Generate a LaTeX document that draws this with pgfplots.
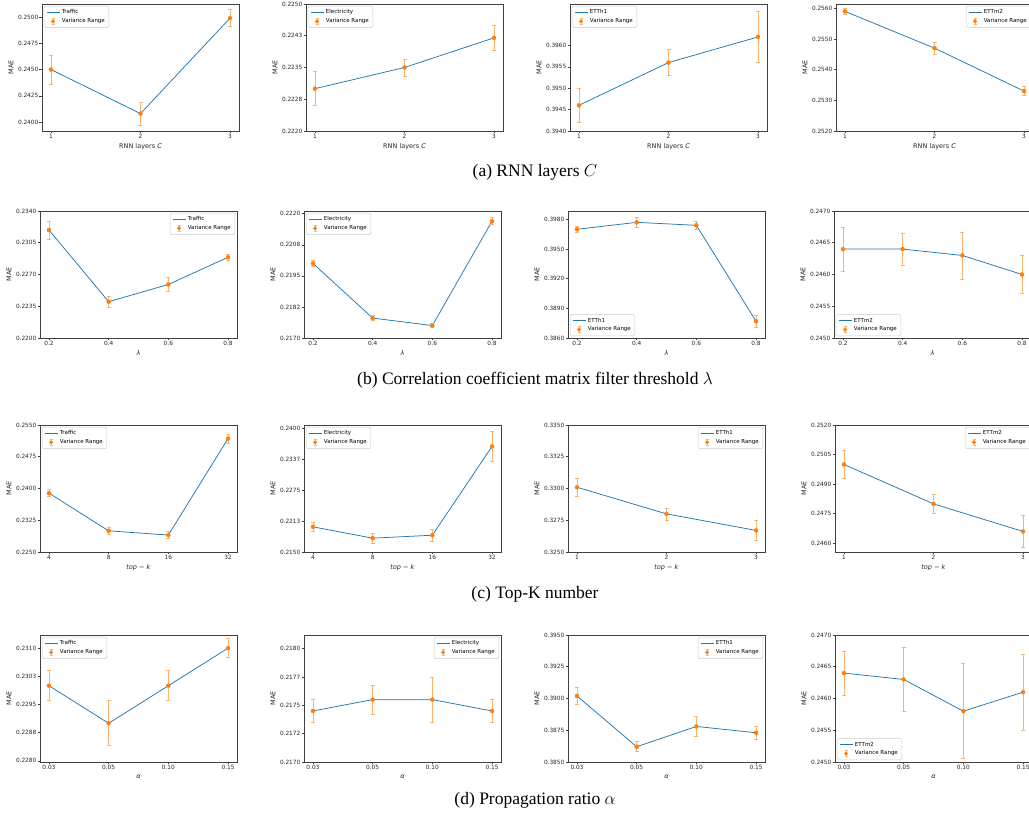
\documentclass[border=0pt]{standalone}
\usepackage{fontspec}
\setmainfont{Liberation Serif}
\newfontfamily\dejavu{DejaVu Sans}
\usepackage{pgfplots}
\pgfplotsset{compat=1.18}

\definecolor{mplblue}{HTML}{1F77B4}
\definecolor{mplorange}{HTML}{FF7F0E}
\colorlet{errorange}{mplorange!60}

\pgfplotsset{
  panel/.style={
    scale only axis, width=197pt, height=127pt, anchor=south west,
    tick pos=left, tick align=outside, major tick length=2.5pt,
    axis line style={black!75, line width=0.5pt},
    tick style={black!75, line width=0.5pt},
    ticklabel style={font=\dejavu\fontsize{5.8}{6}\selectfont, inner sep=1pt, text=black!85},
    label style={font=\dejavu\fontsize{6.5}{7}\selectfont, text=black!85},
    ylabel={MAE},
    legend cell align=left,
    legend style={font=\dejavu\fontsize{5.5}{6}\selectfont, draw=black!20,
      rounded corners=1.5pt, inner xsep=2pt, inner ysep=1.5pt, row sep=-0.8pt, fill=white},
  },
  nw/.style={legend style={at={(0.01,0.985)}, anchor=north west}},
  ne/.style={legend style={at={(0.99,0.985)}, anchor=north east}},
  sw/.style={legend style={at={(0.01,0.015)}, anchor=south west}},
  rowa/.style={xmin=0.9, xmax=3.1, xtick={1,2,3}, xticklabels={1,2,3}, xlabel={RNN layers \textit{C}}},
  rowb/.style={xmin=0.17, xmax=0.83, xtick={0.2,0.4,0.6,0.8}, xticklabels={0.2,0.4,0.6,0.8}, xlabel={\textit{λ}}},
  rowck/.style={xmin=-0.15, xmax=3.15, xtick={0,1,2,3}, xticklabels={4,8,16,32}, xlabel={\textit{top} − \textit{k}}},
  rowc/.style={xmin=0.9, xmax=3.1, xtick={1,2,3}, xticklabels={1,2,3}, xlabel={\textit{top} − \textit{k}}},
  rowd/.style={xmin=-0.15, xmax=3.15, xtick={0,1,2,3}, xticklabels={0.03,0.05,0.10,0.15}, xlabel={\textit{α}}},
  ln/.style={mplblue, line width=0.75pt, mark=none,
    legend image code/.code={\draw[mplblue,line width=0.75pt] (0pt,0pt) -- (13pt,0pt);}},
  eb/.style={only marks, mark=*, mark size=2pt, color=mplorange,
    mark options={fill=mplorange, draw=mplorange},
    error bars/y dir=both, error bars/y explicit,
    error bars/error bar style={errorange, line width=0.9pt},
    error bars/error mark options={rotate=90, errorange, mark size=2pt, line width=0.7pt},
    legend image code/.code={\draw[errorange,line width=0.8pt] (6.5pt,-2.8pt) -- (6.5pt,2.8pt) (5pt,-2.8pt) -- (8pt,-2.8pt) (5pt,2.8pt) -- (8pt,2.8pt); \fill[mplorange] (6.5pt,0pt) circle (1.8pt);}},
}

\begin{document}
\begin{tikzpicture}
% ---------- row (a) ----------
\begin{axis}[panel, rowa, nw, at={(42pt,682pt)}, ymin=0.23914, ymax=0.25125,
  ytick={0.2400,0.2425,0.2450,0.2475,0.2500}, yticklabels={0.2400,0.2425,0.2450,0.2475,0.2500}]
\addplot[ln] coordinates {(1,0.2450) (2,0.2408) (3,0.2499)}; \addlegendentry{Traffic}
\addplot[eb] coordinates {(1,0.2450) +- (0,0.0014) (2,0.2408) +- (0,0.0011) (3,0.2499) +- (0,0.0008)}; \addlegendentry{Variance Range}
\end{axis}
\begin{axis}[panel, rowa, nw, at={(306pt,682pt)}, ymin=0.2220, ymax=0.2250,
  ytick={0.2220,0.22275,0.2235,0.22425,0.2250}, yticklabels={0.2220,0.2228,0.2235,0.2243,0.2250}]
\addplot[ln] coordinates {(1,0.2230) (2,0.2235) (3,0.2242)}; \addlegendentry{Electricity}
\addplot[eb] coordinates {(1,0.2230) +- (0,0.0004) (2,0.2235) +- (0,0.0002) (3,0.2242) +- (0,0.0003)}; \addlegendentry{Variance Range}
\end{axis}
\begin{axis}[panel, rowa, nw, at={(570pt,682pt)}, ymin=0.3940, ymax=0.39697,
  ytick={0.3940,0.3945,0.3950,0.3955,0.3960}, yticklabels={0.3940,0.3945,0.3950,0.3955,0.3960}]
\addplot[ln] coordinates {(1,0.3946) (2,0.3956) (3,0.3962)}; \addlegendentry{ETTh1}
\addplot[eb] coordinates {(1,0.3946) +- (0,0.0004) (2,0.3956) +- (0,0.0003) (3,0.3962) +- (0,0.0006)}; \addlegendentry{Variance Range}
\end{axis}
\begin{axis}[panel, rowa, ne, at={(836pt,682pt)}, ymin=0.2520, ymax=0.25614,
  ytick={0.2520,0.2530,0.2540,0.2550,0.2560}, yticklabels={0.2520,0.2530,0.2540,0.2550,0.2560}]
\addplot[ln] coordinates {(1,0.2559) (2,0.2547) (3,0.2533)}; \addlegendentry{ETTm2}
\addplot[eb] coordinates {(1,0.2559) +- (0,0.0001) (2,0.2547) +- (0,0.0002) (3,0.2533) +- (0,0.00015)}; \addlegendentry{Variance Range}
\end{axis}
% ---------- row (b) ----------
\begin{axis}[panel, rowb, ne, at={(40pt,475pt)}, ymin=0.2200, ymax=0.2340,
  ytick={0.2200,0.2235,0.2270,0.2305,0.2340}, yticklabels={0.2200,0.2235,0.2270,0.2305,0.2340}]
\addplot[ln] coordinates {(0.2,0.2319) (0.4,0.2240) (0.6,0.2259) (0.8,0.2289)}; \addlegendentry{Traffic}
\addplot[eb] coordinates {(0.2,0.2319) +- (0,0.0010) (0.4,0.2240) +- (0,0.0006) (0.6,0.2259) +- (0,0.0008) (0.8,0.2289) +- (0,0.00037)}; \addlegendentry{Variance Range}
\end{axis}
\begin{axis}[panel, rowb, nw, at={(304pt,475pt)}, ymin=0.2170, ymax=0.22211,
  ytick={0.2170,0.21825,0.2195,0.22075,0.2220}, yticklabels={0.2170,0.2182,0.2195,0.2208,0.2220}]
\addplot[ln] coordinates {(0.2,0.2200) (0.4,0.2178) (0.6,0.2175) (0.8,0.2217)}; \addlegendentry{Electricity}
\addplot[eb] coordinates {(0.2,0.2200) +- (0,0.00011) (0.4,0.2178) +- (0,0.0001) (0.6,0.2175) +- (0,0.00009) (0.8,0.2217) +- (0,0.00014)}; \addlegendentry{Variance Range}
\end{axis}
\begin{axis}[panel, rowb, sw, at={(568pt,475pt)}, ymin=0.3860, ymax=0.39885,
  ytick={0.3860,0.3890,0.3920,0.3950,0.3980}, yticklabels={0.3860,0.3890,0.3920,0.3950,0.3980}]
\addplot[ln] coordinates {(0.2,0.3970) (0.4,0.3977) (0.6,0.3974) (0.8,0.3877)}; \addlegendentry{ETTh1}
\addplot[eb] coordinates {(0.2,0.3970) +- (0,0.0003) (0.4,0.3977) +- (0,0.0005) (0.6,0.3974) +- (0,0.0004) (0.8,0.3877) +- (0,0.0006)}; \addlegendentry{Variance Range}
\end{axis}
\begin{axis}[panel, rowb, sw, at={(834pt,475pt)}, ymin=0.2450, ymax=0.2470,
  ytick={0.2450,0.2455,0.2460,0.2465,0.2470}, yticklabels={0.2450,0.2455,0.2460,0.2465,0.2470}]
\addplot[ln] coordinates {(0.2,0.2464) (0.4,0.2464) (0.6,0.2463) (0.8,0.2460)}; \addlegendentry{ETTm2}
\addplot[eb] coordinates {(0.2,0.2464) +- (0,0.00035) (0.4,0.2464) +- (0,0.00025) (0.6,0.2463) +- (0,0.00037) (0.8,0.2460) +- (0,0.0003)}; \addlegendentry{Variance Range}
\end{axis}
% ---------- row (c) ----------
\begin{axis}[panel, rowck, nw, at={(40pt,261pt)}, ymin=0.2250, ymax=0.2550,
  ytick={0.2250,0.2325,0.2400,0.2475,0.2550}, yticklabels={0.2250,0.2325,0.2400,0.2475,0.2550}]
\addplot[ln] coordinates {(0,0.2389) (1,0.2300) (2,0.2290) (3,0.2518)}; \addlegendentry{Traffic}
\addplot[eb] coordinates {(0,0.2389) +- (0,0.0008) (1,0.2300) +- (0,0.0009) (2,0.2290) +- (0,0.0008) (3,0.2518) +- (0,0.0011)}; \addlegendentry{Variance Range}
\end{axis}
\begin{axis}[panel, rowck, nw, at={(304pt,261pt)}, ymin=0.2150, ymax=0.24074,
  ytick={0.2150,0.22125,0.2275,0.23375,0.2400}, yticklabels={0.2150,0.2213,0.2275,0.2337,0.2400}]
\addplot[ln] coordinates {(0,0.2201) (1,0.2178) (2,0.2184) (3,0.2364)}; \addlegendentry{Electricity}
\addplot[eb] coordinates {(0,0.2201) +- (0,0.0009) (1,0.2178) +- (0,0.0010) (2,0.2184) +- (0,0.0012) (3,0.2364) +- (0,0.0031)}; \addlegendentry{Variance Range}
\end{axis}
\begin{axis}[panel, rowc, ne, at={(568pt,261pt)}, ymin=0.3250, ymax=0.3350,
  ytick={0.3250,0.3275,0.3300,0.3325,0.3350}, yticklabels={0.3250,0.3275,0.3300,0.3325,0.3350}]
\addplot[ln] coordinates {(1,0.3301) (2,0.3280) (3,0.3267)}; \addlegendentry{ETTh1}
\addplot[eb] coordinates {(1,0.3301) +- (0,0.0007) (2,0.3280) +- (0,0.00047) (3,0.3267) +- (0,0.0008)}; \addlegendentry{Variance Range}
\end{axis}
\begin{axis}[panel, rowc, ne, at={(835pt,261pt)}, ymin=0.24556, ymax=0.2520,
  ytick={0.2460,0.2475,0.2490,0.2505,0.2520}, yticklabels={0.2460,0.2475,0.2490,0.2505,0.2520}]
\addplot[ln] coordinates {(1,0.2500) (2,0.2480) (3,0.2466)}; \addlegendentry{ETTm2}
\addplot[eb] coordinates {(1,0.2500) +- (0,0.0007) (2,0.2480) +- (0,0.0005) (3,0.2466) +- (0,0.0008)}; \addlegendentry{Variance Range}
\end{axis}
% ---------- row (d) ----------
\begin{axis}[panel, rowd, nw, at={(40pt,51pt)}, ymin=0.22797, ymax=0.23135,
  ytick={0.2280,0.22875,0.2295,0.23025,0.2310}, yticklabels={0.2280,0.2288,0.2295,0.2303,0.2310}]
\addplot[ln] coordinates {(0,0.2300) (1,0.2290) (2,0.2300) (3,0.2310)}; \addlegendentry{Traffic}
\addplot[eb] coordinates {(0,0.2300) +- (0,0.0004) (1,0.2290) +- (0,0.0006) (2,0.2300) +- (0,0.0004) (3,0.2310) +- (0,0.00025)}; \addlegendentry{Variance Range}
\end{axis}
\begin{axis}[panel, rowd, ne, at={(304pt,51pt)}, ymin=0.2170, ymax=0.21812,
  ytick={0.2170,0.21725,0.2175,0.21775,0.2180}, yticklabels={0.2170,0.2172,0.2175,0.2177,0.2180}]
\addplot[ln] coordinates {(0,0.21745) (1,0.21755) (2,0.21755) (3,0.21745)}; \addlegendentry{Electricity}
\addplot[eb] coordinates {(0,0.21745) +- (0,0.0001) (1,0.21755) +- (0,0.00013) (2,0.21755) +- (0,0.0002) (3,0.21745) +- (0,0.0001)}; \addlegendentry{Variance Range}
\end{axis}
\begin{axis}[panel, rowd, ne, at={(568pt,51pt)}, ymin=0.3850, ymax=0.3950,
  ytick={0.3850,0.3875,0.3900,0.3925,0.3950}, yticklabels={0.3850,0.3875,0.3900,0.3925,0.3950}]
\addplot[ln] coordinates {(0,0.3902) (1,0.3862) (2,0.3878) (3,0.3873)}; \addlegendentry{ETTh1}
\addplot[eb] coordinates {(0,0.3902) +- (0,0.0007) (1,0.3862) +- (0,0.0004) (2,0.3878) +- (0,0.0008) (3,0.3873) +- (0,0.0005)}; \addlegendentry{Variance Range}
\end{axis}
\begin{axis}[panel, rowd, sw, at={(835pt,51pt)}, ymin=0.2450, ymax=0.2470,
  ytick={0.2450,0.2455,0.2460,0.2465,0.2470}, yticklabels={0.2450,0.2455,0.2460,0.2465,0.2470}]
\addplot[ln] coordinates {(0,0.2464) (1,0.2463) (2,0.2458) (3,0.2461)}; \addlegendentry{ETTm2}
\addplot[eb] coordinates {(0,0.2464) +- (0,0.00035) (1,0.2463) +- (0,0.0005) (2,0.2458) +- (0,0.00075) (3,0.2461) +- (0,0.0006)}; \addlegendentry{Variance Range}
\end{axis}
% ---------- captions ----------
\begin{scope}[every node/.style={font=\fontsize{17.5}{20}\selectfont}]
\node at (535pt,641pt) {(a) RNN layers $C$};
\node at (535pt,433pt) {(b) Correlation coefficient matrix filter threshold $\lambda$};
\node at (535pt,219pt) {(c) Top-K number};
\node at (535pt,13pt) {(d) Propagation ratio $\alpha$};
\end{scope}
\pgfresetboundingbox
\useasboundingbox (0pt,0pt) rectangle (1029pt,813pt);
\end{tikzpicture}
\end{document}
